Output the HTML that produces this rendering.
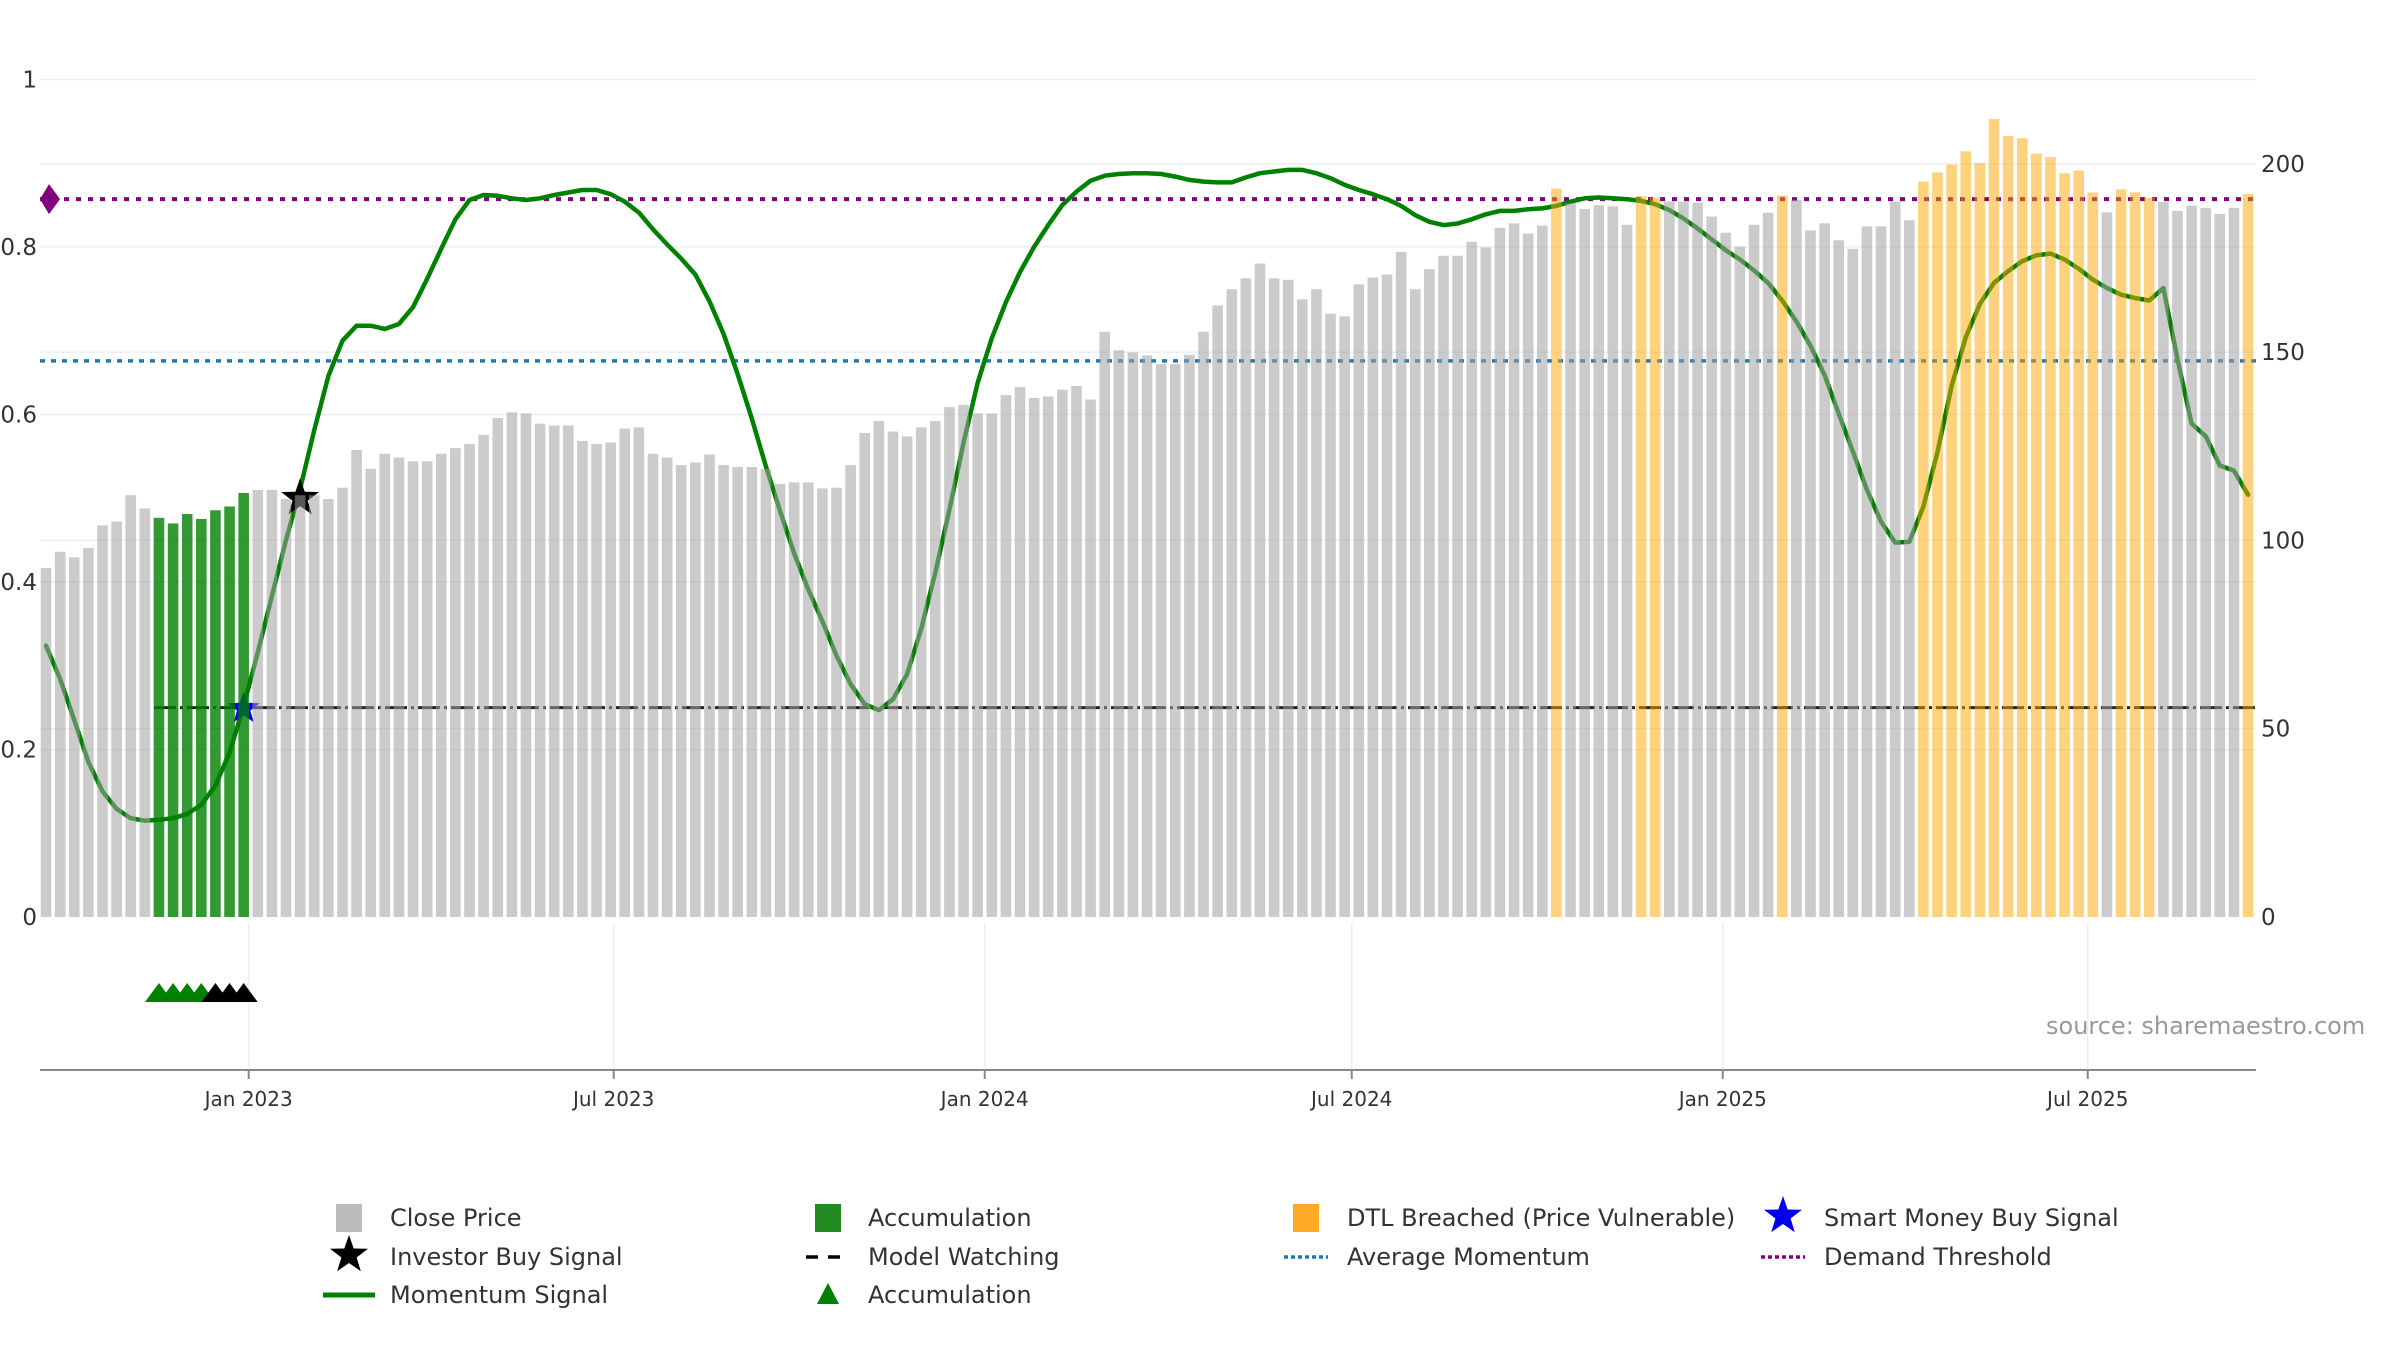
<!DOCTYPE html>
<html><head><meta charset="utf-8">
<style>
html,body{margin:0;padding:0;background:#fff;}
svg{display:block;font-family:"DejaVu Sans","Liberation Sans",sans-serif;}
</style></head>
<body>
<svg id="chart" width="2400" height="1350" viewBox="0 0 2400 1350" xmlns="http://www.w3.org/2000/svg">
<g id="grid"></g>
<g id="refs"></g>
<g id="line"></g>
<g id="markers"></g>
<g id="bars"></g>
<g id="axes"></g>
<g id="tri"></g>
<text x="2046" y="1034" font-size="24" fill="#999">source: sharemaestro.com</text>
<g id="legend"></g>
</svg>
<script>
const closePrices = [92.7,97,95.5,98,104,105,112,108.5,106,104.5,107,105.7,108,109,112.6,113.4,113.4,111,112,112,111,114,124,119,123,122,121,121,123,124.5,125.6,128,132.5,134,133.7,131,130.5,130.5,126.4,125.6,126,129.7,130,123,122,120,120.7,122.8,120,119.5,119.5,119,115,115.4,115.4,113.8,114,120,128.5,131.7,128.9,127.6,130,131.7,135.4,136,133.7,133.7,138.6,140.7,137.8,138.2,140,141,137.4,155.4,150.5,149.9,149.1,146.8,146.8,149.3,155.4,162.4,166.7,169.6,173.5,169.6,169.2,164,166.7,160.2,159.5,168,169.8,170.6,176.6,166.7,172,175.6,175.6,179.3,177.8,183,184.2,181.5,183.6,193.4,189.5,188,189,188.7,183.8,191.4,191,190,190,189.7,186,181.7,178,183.8,187,191.6,190.4,182.3,184.2,179.7,177.4,183.4,183.4,190,185,195.3,197.7,199.8,203.3,200.2,211.9,207.4,206.8,202.7,201.8,197.5,198.2,192.4,187.1,193.2,192.4,191,189.9,187.5,188.9,188.3,186.7,188.3,192];
const momentum = [.324,.284,.235,.185,.15,.129,.118,.115,.116,.118,.123,.134,.157,.196,.252,.316,.383,.45,.511,.581,.646,.688,.706,.706,.702,.708,.728,.762,.798,.833,.856,.862,.861,.858,.856,.858,.862,.865,.868,.868,.863,.854,.841,.821,.803,.786,.767,.735,.696,.648,.595,.538,.485,.434,.391,.353,.312,.278,.254,.247,.26,.29,.344,.411,.486,.566,.638,.691,.734,.77,.8,.826,.85,.866,.879,.885,.887,.888,.888,.887,.884,.88,.878,.877,.877,.883,.888,.89,.892,.892,.888,.882,.874,.868,.863,.857,.849,.838,.83,.826,.828,.833,.839,.843,.843,.845,.846,.849,.854,.858,.859,.858,.857,.855,.851,.844,.834,.822,.809,.796,.785,.772,.757,.736,.711,.682,.647,.601,.556,.51,.472,.447,.448,.49,.555,.634,.692,.732,.757,.771,.783,.79,.792,.785,.774,.761,.751,.743,.739,.736,.751,.666,.589,.574,.539,.533,.504];
const accumulationIdx = [8,9,10,11,12,13,14];
const dtlIdx = [107,113,114,123,133,134,135,136,137,138,139,140,141,142,143,144,145,147,148,149,156];
const triGreenIdx = [8,9,10,11];
const triBlackIdx = [12,13,14];
const investorSignal = {idx:18, value:0.5};
const smartMoneySignal = {idx:14, value:0.249};
const demandThreshold = 0.857;
const avgMomentum = 0.664;
const modelWatching = 0.25;
const modelWatchStartIdx = 8;
const leftTicks = [0,0.2,0.4,0.6,0.8,1];
const leftTickLabels = ["0","0.2","0.4","0.6","0.8","1"];
const rightTicks = [0,50,100,150,200];
const xTickDays = [0,181,365,547,731,912];
const xTickLabels = ["Jan 2023","Jul 2023","Jan 2024","Jul 2024","Jan 2025","Jul 2025"];
const firstBarDay = -100.5, barStepDays = 7;

const NS="http://www.w3.org/2000/svg";
const X0=40, X1=2256, Y0=917, AXY=1070;
function xDay(d){return 248.7+d*2.0165;}
function xBar(i){return xDay(firstBarDay+i*barStepDays);}
function yL(v){return Y0-v*837.6;}
function yR(v){return Y0-v*3.766;}
function mk(tag,attrs,parent){const e=document.createElementNS(NS,tag);for(const k in attrs)e.setAttribute(k,attrs[k]);parent.appendChild(e);return e;}
const G=id=>document.getElementById(id);

leftTicks.slice(1).forEach(t=>{const l=mk('line',{x1:X0,x2:X1,y1:yL(t),y2:yL(t),stroke:'#eceff2','stroke-width':1.5},G('grid'));

});
rightTicks.slice(1).forEach(t=>{const l=mk('line',{x1:X0,x2:X1,y1:yR(t),y2:yR(t),stroke:'#eceff2','stroke-width':1.5},G('grid'));

});
xTickDays.forEach(d=>{const l=mk('line',{x1:xDay(d),x2:xDay(d),y1:923,y2:AXY,stroke:'#eceff2','stroke-width':1.5},G('grid'));

});

let r=mk('line',{x1:X0,x2:X1,y1:yL(demandThreshold),y2:yL(demandThreshold),stroke:'#800080','stroke-width':4,'stroke-dasharray':'5,7'},G('refs'));


const dy=yL(demandThreshold);
r=mk('path',{d:`M49 ${dy-15} L60 ${dy} L49 ${dy+15} L40 ${dy} Z`,fill:'#800080'},G('refs'));


r=mk('line',{x1:X0,x2:X1,y1:yL(avgMomentum),y2:yL(avgMomentum),stroke:'#1f77b4','stroke-width':3.5,'stroke-dasharray':'5,6'},G('refs'));


r=mk('line',{x1:xBar(modelWatchStartIdx)-5,x2:X1,y1:yL(modelWatching),y2:yL(modelWatching),stroke:'#222','stroke-width':3,'stroke-dasharray':'22,4,3,4'},G('refs'));



const pts=momentum.map((v,i)=>xBar(i).toFixed(1)+','+yL(v).toFixed(1)).join(' ');
r=mk('polyline',{points:pts,fill:'none',stroke:'#008000','stroke-width':4.5,'stroke-linejoin':'round','stroke-linecap':'round'},G('line'));



function starPath(cx,cy,R,ri){let d='';for(let k=0;k<10;k++){const a=-Math.PI/2+k*Math.PI/5;const rr=k%2?ri:R;d+=(k?'L':'M')+(cx+rr*Math.cos(a)).toFixed(1)+' '+(cy+rr*Math.sin(a)).toFixed(1);}return d+'Z';}
r=mk('path',{d:starPath(xBar(investorSignal.idx),yL(investorSignal.value),20,8),fill:'#000'},G('markers'));


r=mk('path',{d:starPath(xBar(smartMoneySignal.idx),yL(smartMoneySignal.value),17,7),fill:'#0000ee'},G('markers'));



closePrices.forEach((v,i)=>{
  let fill='#a0a0a0',op=0.55,name='close-price-bar';
  if(accumulationIdx.includes(i)){fill='#008000';op=0.8;name='accumulation-bar';}
  else if(dtlIdx.includes(i)){fill='#ffa500';op=0.5;name='dtl-breached-bar';}
  const b=mk('rect',{x:xBar(i)-5.3,y:yR(v),width:10.6,height:Y0-yR(v),fill:fill,'fill-opacity':op},G('bars'));
  
  
});

r=mk('line',{x1:X0,x2:X1,y1:AXY,y2:AXY,stroke:'#888','stroke-width':2},G('axes'));


xTickDays.forEach((d,k)=>{
  const t=mk('line',{x1:xDay(d),x2:xDay(d),y1:AXY,y2:AXY+9,stroke:'#888','stroke-width':2},G('axes'));
  
  
  const tx=mk('text',{x:xDay(d),y:1106,'font-size':20,fill:'#333','text-anchor':'middle'},G('axes'));
  tx.textContent=xTickLabels[k];
  
  
});
leftTicks.forEach((t,k)=>{
  const tx=mk('text',{x:37,y:yL(t)+8,'font-size':23,fill:'#333','text-anchor':'end'},G('axes'));
  tx.textContent=leftTickLabels[k];
  
  
});
rightTicks.forEach(t=>{
  const tx=mk('text',{x:2261,y:yR(t)+8,'font-size':23,fill:'#333'},G('axes'));
  tx.textContent=String(t);
  
  
});

function tri(cx,cy,fill,name){const p=mk('path',{d:`M${cx-14} ${cy+9} L${cx} ${cy-10} L${cx+14} ${cy+9}Z`,fill:fill},G('tri'));

}
triGreenIdx.forEach(i=>tri(xBar(i),993,'#008000','accumulation-triangle'));
triBlackIdx.forEach(i=>tri(xBar(i),993,'#000','watch-triangle'));

const L=G('legend');
function legText(x,y,s,name){const t=mk('text',{x:x,y:y+8,'font-size':24,fill:'#333'},L);t.textContent=s;

}
const rows=[1218,1257,1295], cols=[349,828,1306,1783], tcol=[390,868,1347,1824];
mk('rect',{x:cols[0]-13,y:rows[0]-14,width:26,height:28,fill:'#bbb'},L);
legText(tcol[0],rows[0],'Close Price','legend-close-price');
mk('rect',{x:cols[1]-13,y:rows[0]-14,width:26,height:28,fill:'#228b22'},L);
legText(tcol[1],rows[0],'Accumulation','legend-accumulation-bar');
mk('rect',{x:cols[2]-13,y:rows[0]-14,width:26,height:28,fill:'#ffa928'},L);
legText(tcol[2],rows[0],'DTL Breached (Price Vulnerable)','legend-dtl-breached');
mk('path',{d:starPath(cols[3],rows[0]-2,20,8),fill:'#0000ee'},L);
legText(tcol[3],rows[0],'Smart Money Buy Signal','legend-smart-money');
mk('path',{d:starPath(cols[0],rows[1]-2,20,8),fill:'#000'},L);
legText(tcol[0],rows[1],'Investor Buy Signal','legend-investor-buy');
mk('line',{x1:cols[1]-22,x2:cols[1]+22,y1:rows[1],y2:rows[1],stroke:'#000','stroke-width':3.5,'stroke-dasharray':'12,10'},L);
legText(tcol[1],rows[1],'Model Watching','legend-model-watching');
mk('line',{x1:cols[2]-22,x2:cols[2]+22,y1:rows[1],y2:rows[1],stroke:'#1f77b4','stroke-width':3.5,'stroke-dasharray':'4,3'},L);
legText(tcol[2],rows[1],'Average Momentum','legend-average-momentum');
mk('line',{x1:cols[3]-22,x2:cols[3]+22,y1:rows[1],y2:rows[1],stroke:'#800080','stroke-width':3.5,'stroke-dasharray':'4,3'},L);
legText(tcol[3],rows[1],'Demand Threshold','legend-demand-threshold');
mk('line',{x1:cols[0]-26,x2:cols[0]+26,y1:rows[2],y2:rows[2],stroke:'#008000','stroke-width':5},L);
legText(tcol[0],rows[2],'Momentum Signal','legend-momentum-signal');
mk('path',{d:`M${cols[1]-11} ${rows[2]+9} L${cols[1]} ${rows[2]-12} L${cols[1]+11} ${rows[2]+9}Z`,fill:'#008000'},L);
legText(tcol[1],rows[2],'Accumulation','legend-accumulation-triangle');
</script>
</body></html>
